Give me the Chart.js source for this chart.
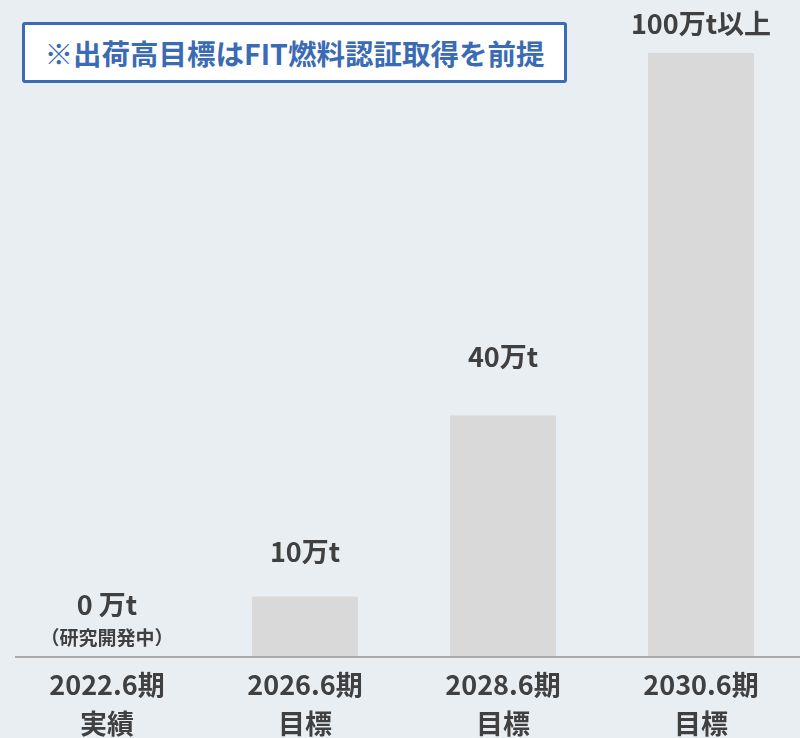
<!DOCTYPE html>
<html lang="ja">
<head>
<meta charset="utf-8">
<script src="https://cdn.jsdelivr.net/npm/chart.js@4.4.0/dist/chart.umd.min.js"></script>
<style>
    html, body { margin: 0; padding: 0; background: #e9eef3; overflow: hidden; }
    #wrap { position: relative; width: 800px; height: 738px; }
    #note {
        position: absolute; left: 22px; top: 22px; width: 539px; height: 55px;
        border: 3px solid #3a6bb4; border-radius: 3px; background: #fff;
        color: #3a6bb4; font: bold 28.5px "Noto Sans CJK JP", sans-serif;
        display: flex; align-items: center; justify-content: center;
    }
</style>
</head>
<body>
<div id="wrap">
    <canvas id="chart" width="800" height="738"></canvas>
    <div id="note">※出荷高目標はFIT燃料認証取得を前提</div>
</div>
<script>
const periods = ['2022.6期', '2026.6期', '2028.6期', '2030.6期'];
const periodKinds = ['実績', '目標', '目標', '目標'];
const shipments = [0, 10, 40, 100]; // 万t
const valueLabels = ['0 万t', '10万t', '40万t', '100万t以上'];
const subLabels = ['（研究開発中）', '', '', ''];

const FONT = '"Noto Sans CJK JP", sans-serif';
const TEXT_COLOR = '#404040';

// ラベル描画（棒の上）+ 横軸の線
const valueLabelPlugin = {
    id: 'valueLabels',
    afterDatasetsDraw(chart, args, opts) {
        const ctx = chart.ctx;
        const meta = chart.getDatasetMeta(0);
        const area = chart.chartArea;
        ctx.save();
        ctx.strokeStyle = '#aaaaaa';
        ctx.lineWidth = 2;
        ctx.beginPath();
        ctx.moveTo(area.left + 7, area.bottom);
        ctx.lineTo(area.right, area.bottom);
        ctx.stroke();

        ctx.textAlign = 'center';
        ctx.textBaseline = 'middle';
        ctx.fillStyle = TEXT_COLOR;
        meta.data.forEach((bar, i) => {
            ctx.font = 'bold 27px ' + FONT;
            ctx.fillText(valueLabels[i], bar.x, bar.y - opts.offsets[i]);
            if (subLabels[i]) {
                ctx.font = 'bold 19px ' + FONT;
                ctx.fillText(subLabels[i], bar.x, bar.y - opts.subOffset);
            }
        });
        ctx.restore();
    }
};

new Chart(document.getElementById('chart'), {
    type: 'bar',
    data: {
        labels: periods.map((p, i) => [p, periodKinds[i]]),
        datasets: [{
            data: shipments,
            backgroundColor: '#d9d9d9',
            categoryPercentage: 0.535,
            barPercentage: 1
        }]
    },
    options: {
        responsive: false,
        animation: false,
        layout: {padding: {top: 53, left: 8, right: 0, bottom: 0}},
        plugins: {
            legend: {display: false},
            tooltip: {enabled: false},
            valueLabels: {offsets: [52, 45, 59, 29], subOffset: 19}
        },
        scales: {
            x: {
                grid: {display: false, drawTicks: false},
                border: {display: false},
                ticks: {
                    color: TEXT_COLOR,
                    padding: 8,
                    font: {family: FONT, size: 27, weight: 'bold', lineHeight: 1.45}
                },
                afterFit(scale) { scale.height = 81; }
            },
            y: {
                display: false,
                min: 0,
                max: 100
            }
        }
    },
    plugins: [valueLabelPlugin]
});
</script>
</body>
</html>
